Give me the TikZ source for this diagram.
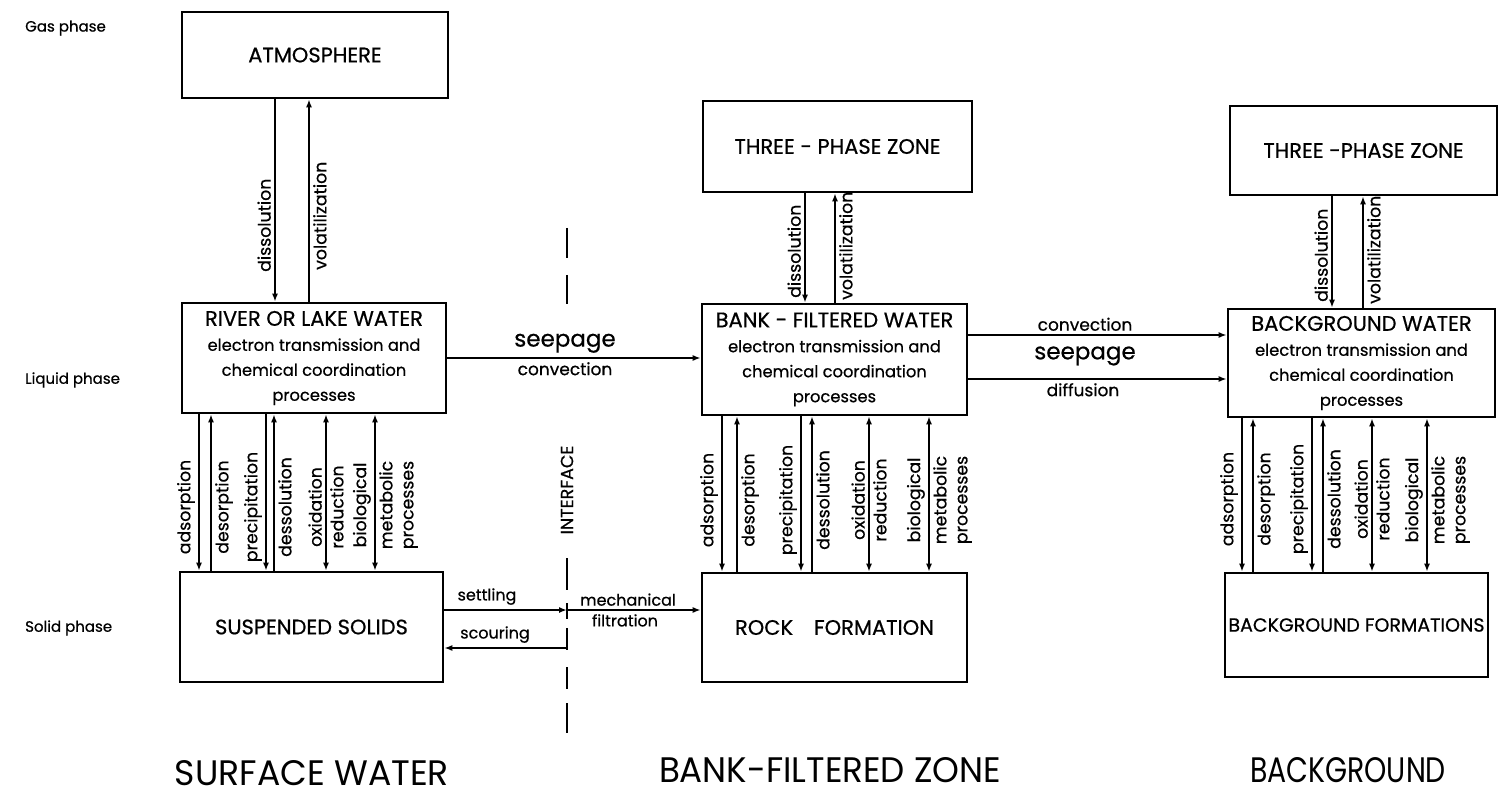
\documentclass[tikz,border=0pt]{standalone}
\usepackage{fontspec}
\setmainfont{Poppins}[FakeBold=0.6]
\newfontfamily\thinfont{Poppins}
\usetikzlibrary{arrows.meta}
\newcommand\fsz[2]{\fontsize{#1}{#2}\selectfont}
\begin{document}
\begin{tikzpicture}[x=1pt,y=-1pt,
  box/.style={draw,line width=2.6pt,align=center,inner sep=0pt,font=\fsz{21}{25}},
  tip/.style={-{Latex[length=8pt,width=6pt]}},
  ar/.style={line width=2pt,tip},
  dar/.style={line width=2pt,{Latex[length=8pt,width=6pt]}-{Latex[length=8pt,width=6pt]}},
  vl/.style={rotate=90,font=\fsz{17.3}{21},inner sep=1pt,align=center},
  vlL/.style={vl,anchor=south},
  vlR/.style={vl,anchor=north},
  vlLb/.style={vl,anchor=south west},
  vlRb/.style={vl,anchor=north west},
  phase/.style={anchor=west,font=\fsz{15}{18},inner sep=0pt},
  flow/.style={font=\fsz{17}{20},inner sep=1pt},
  small/.style={font=\fsz{16}{18},inner sep=1pt},
  big/.style={font=\fsz{23}{26},inner sep=1pt},
  zone/.style={font=\thinfont\fsz{32}{34},inner sep=0pt,anchor=base},
  ifline/.style={line width=2.2pt}]
\newcommand\bd[1]{{\fsz{16.3}{25}#1}}
\useasboundingbox (0,0) rectangle (1506,799);
\fill[white] (0,0) rectangle (1506,799);

% phase labels
\node[phase] (gas) at (25,28) {Gas phase};
\node[phase] (liq) at (25,380) {Liquid phase};
\node[phase] (sol) at (25,628) {Solid phase};

% ---------- boxes ----------
\node[box,minimum width=266pt,minimum height=86pt] (atm) at (315,55) {ATMOSPHERE};
\node[box,minimum width=264pt,minimum height=110pt] (river) at (314,358)
  {RIVER OR LAKE WATER\\\bd{electron transmission and}\\\bd{chemical coordination}\\\bd{processes}};
\node[box,minimum width=263pt,minimum height=110pt] (solids) at (311.5,627) {SUSPENDED SOLIDS};

\node[box,minimum width=269pt,minimum height=91pt] (tpz1) at (837.5,146.5) {THREE - PHASE ZONE};
\node[box,minimum width=265pt,minimum height=111pt] (bank) at (834.5,359.5)
  {BANK - FILTERED WATER\\\bd{electron transmission and}\\\bd{chemical coordination}\\\bd{processes}};
\node[box,minimum width=265pt,minimum height=109pt] (rock) at (834.5,627.5) {ROCK\quad FORMATION};

\node[box,minimum width=267pt,minimum height=89pt] (tpz2) at (1363.5,150.5) {THREE -PHASE ZONE};
\node[box,minimum width=267pt,minimum height=108pt] (bgw) at (1361.5,363)
  {BACKGROUND WATER\\\bd{electron transmission and}\\\bd{chemical coordination}\\\bd{processes}};
\node[box,minimum width=263pt,minimum height=104pt,font=\fsz{19}{25}] (bgf) at (1356.5,625) {BACKGROUND FORMATIONS};

% ---------- left column ----------
\draw[ar] (275,0 |- atm.south) -- (275,0 |- river.north);
\draw[ar] (309,0 |- river.north) -- (309,0 |- atm.south);
\node[vlLb] (l1) at (272,273) {dissolution};
\node[vlRb] (l2) at (312,271) {volatilization};

\draw[ar] (199,0 |- river.south) -- (199,0 |- solids.north);
\draw[ar] (211,0 |- solids.north) -- (211,0 |- river.south);
\draw[ar] (266,0 |- river.south) -- (266,0 |- solids.north);
\draw[ar] (274,0 |- solids.north) -- (274,0 |- river.south);
\draw[dar] (326,0 |- river.south) -- (326,0 |- solids.north);
\draw[dar] (375,0 |- river.south) -- (375,0 |- solids.north);
\node[vlL] (la1) at (196,507) {adsorption};
\node[vlR] (la2) at (214,507) {desorption};
\node[vlL] (la3) at (263,507) {precipitation};
\node[vlR] (la4) at (277,507) {dessolution};
\node[vlL] (la5) at (323,507) {oxidation};
\node[vlR] (la6) at (329,507) {reduction};
\node[vlL] (la7) at (372,505) {biological};
\node[vlR] (la8) at (378,505) {metabolic\\processes};

% seepage left
\draw[ar] (river.east) -- (river.east -| bank.west);
\node[big,anchor=south] (sp1) at (565,354) {seepage};
\node[flow,anchor=north] (cv1) at (565,361) {convection};

% interface
\draw[ifline] (567,228) -- (567,258);
\draw[ifline] (567,275) -- (567,304);
\draw[ifline] (567,558) -- (567,590);
\draw[ifline] (567,603) -- (567,619);
\draw[ifline] (567,628) -- (567,650);
\draw[ifline] (567,667) -- (567,689);
\draw[ifline] (567,703) -- (567,733);
\node[rotate=90,font=\fsz{17.5}{20},inner sep=0pt] (iface) at (567,490) {INTERFACE};
\coordinate (ifset) at (567,610);
\coordinate (ifsc) at (567,648);
\draw[ar] (solids.east |- ifset) -- (ifset);
\draw[ar] (ifset) -- (rock.west |- ifset);
\draw[ar] (ifsc) -- (solids.east |- ifsc);
\node[small,anchor=south] (set) at (487,606) {settling};
\node[small,anchor=south] (sco) at (495,644) {scouring};
\node[small,anchor=south] (mec) at (628,607) {mechanical};
\node[small,anchor=north] (fil) at (625,613) {filtration};

% ---------- middle column ----------
\draw[ar] (805,0 |- tpz1.south) -- (805,0 |- bank.north);
\draw[ar] (835,0 |- bank.north) -- (835,0 |- tpz1.south);
\node[vlLb] (m1) at (802,299) {dissolution};
\node[vlRb] (m2) at (838,301) {volatilization};

\draw[ar] (722,0 |- bank.south) -- (722,0 |- rock.north);
\draw[ar] (737,0 |- rock.north) -- (737,0 |- bank.south);
\draw[ar] (801,0 |- bank.south) -- (801,0 |- rock.north);
\draw[ar] (812,0 |- rock.north) -- (812,0 |- bank.south);
\draw[dar] (869,0 |- bank.south) -- (869,0 |- rock.north);
\draw[dar] (929,0 |- bank.south) -- (929,0 |- rock.north);
\node[vlL] (ma1) at (719,500) {adsorption};
\node[vlR] (ma2) at (740,500) {desorption};
\node[vlL] (ma3) at (798,500) {precipitation};
\node[vlR] (ma4) at (815,500) {dessolution};
\node[vlL] (ma5) at (866,500) {oxidation};
\node[vlR] (ma6) at (872,500) {reduction};
\node[vlL] (ma7) at (926,500) {biological};
\node[vlR] (ma8) at (932,500) {metabolic\\processes};

% flows to background
\draw[ar] (bank.east |- 0,335) -- (bgw.west |- 0,335);
\draw[ar] (bank.east |- 0,379) -- (bgw.west |- 0,379);
\node[flow,anchor=south] (cv2) at (1085,332) {convection};
\node[big] (sp2) at (1085,356) {seepage};
\node[flow,anchor=north] (df2) at (1083,382) {diffusion};

% ---------- right column ----------
\draw[ar] (1332,0 |- tpz2.south) -- (1332,0 |- bgw.north);
\draw[ar] (1363,0 |- bgw.north) -- (1363,0 |- tpz2.south);
\node[vlLb] (r1) at (1329,303) {dissolution};
\node[vlRb] (r2) at (1366,305) {volatilization};

\draw[ar] (1242,0 |- bgw.south) -- (1242,0 |- bgf.north);
\draw[ar] (1253,0 |- bgf.north) -- (1253,0 |- bgw.south);
\draw[ar] (1312,0 |- bgw.south) -- (1312,0 |- bgf.north);
\draw[ar] (1323,0 |- bgf.north) -- (1323,0 |- bgw.south);
\draw[dar] (1372,0 |- bgw.south) -- (1372,0 |- bgf.north);
\draw[dar] (1427,0 |- bgw.south) -- (1427,0 |- bgf.north);
\node[vlL] (ra1) at (1239,499) {adsorption};
\node[vlR] (ra2) at (1256,499) {desorption};
\node[vlL] (ra3) at (1309,499) {precipitation};
\node[vlR] (ra4) at (1326,499) {dessolution};
\node[vlL] (ra5) at (1369,499) {oxidation};
\node[vlR] (ra6) at (1375,499) {reduction};
\node[vlL] (ra7) at (1424,500) {biological};
\node[vlR] (ra8) at (1430,500) {metabolic\\processes};

% zone labels
\node[zone] (z1) at (312,785) {\resizebox{274pt}{25pt}{SURFACE WATER}};
\node[zone] (z2) at (830,782) {\resizebox{342pt}{25pt}{BANK-FILTERED ZONE}};
\node[zone] (z3) at (1348,782) {\resizebox{196pt}{25pt}{BACKGROUND}};
\end{tikzpicture}
\end{document}
